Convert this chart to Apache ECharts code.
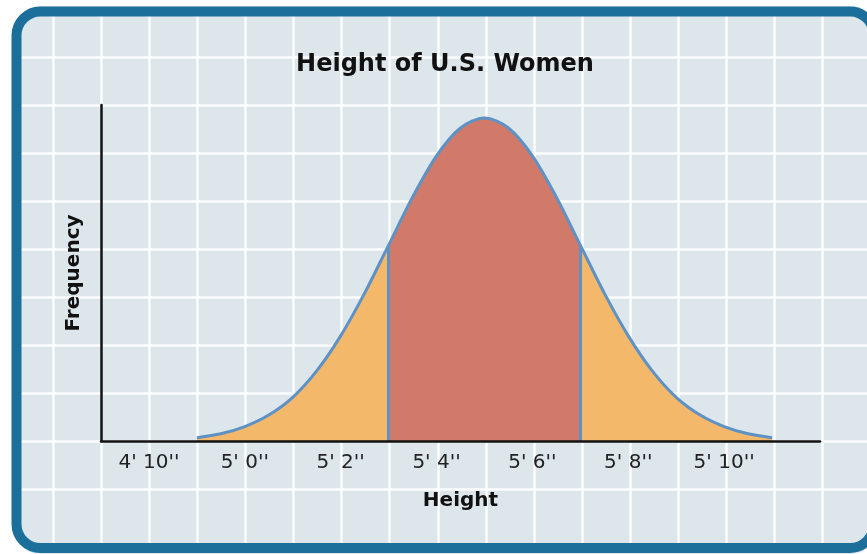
<!DOCTYPE html>
<html><head><meta charset="utf-8">
<script src="https://cdn.jsdelivr.net/npm/echarts@6/dist/echarts.min.js"></script>
<style>html,body{margin:0;padding:0;background:#fff}#c{width:867px;height:554px}</style>
</head><body><div id="c"></div>
<script>
// Height in inches (x) and relative frequency (y)
const heights = [59, 59.5, 60, 60.5, 61, 61.5, 62, 62.5, 63, 63.5, 64, 64.5, 65, 65.5, 66, 66.5, 67, 67.5, 68, 68.5, 69, 69.5, 70, 70.5, 71];
const frequency = [0.07, 0.15, 0.30, 0.54, 0.91, 1.46, 2.19, 3.08, 4.08, 5.08, 5.94, 6.52, 6.73, 6.52, 5.94, 5.08, 4.08, 3.08, 2.19, 1.46, 0.91, 0.54, 0.30, 0.15, 0.07];
const tickValues = [58, 60, 62, 64, 66, 68, 70];
const tickLabels = ["4' 10''", "5' 0''", "5' 2''", "5' 4''", "5' 6''", "5' 8''", "5' 10''"];
const dividers = [63, 67];

const ORANGE = '#f4b86b', RED = '#d27a69', BLUE = '#5f92c4';
const FONT = '"DejaVu Sans", "Liberation Sans", sans-serif';

const points = heights.map((h, i) => [h, frequency[i]]);
const dividerLines = dividers.map(d => {
  const v = frequency[heights.indexOf(d)];
  return [{ coord: [d, 0] }, { coord: [d, v] }];
});

const chart = echarts.init(document.getElementById('c'), null, { renderer: 'canvas' });
chart.setOption({
  backgroundColor: '#dce6eb',
  animation: false,
  grid: [
    { left: 101, top: 105, width: 719, height: 336, outerBoundsMode: 'none' },
    { left: 4.9, top: 10, width: 865.8, height: 540, outerBoundsMode: 'none' },
    { left: 0, top: 9, width: 867, height: 480, outerBoundsMode: 'none' }
  ],
  xAxis: [
    {
      gridIndex: 0, type: 'value', min: 57, max: 72, interval: 1, z: 5,
      axisLine: { show: true, lineStyle: { color: '#111', width: 2.5 } },
      axisTick: { show: false }, splitLine: { show: false },
      axisLabel: {
        margin: 12, color: '#222', fontSize: 20, fontFamily: FONT,
        formatter: v => { const i = tickValues.indexOf(v); return i >= 0 ? tickLabels[i] : ''; }
      },
      name: 'Height', nameLocation: 'middle', nameGap: 50,
      nameTextStyle: { color: '#111', fontSize: 20, fontWeight: 'bold', fontFamily: FONT }
    },
    {
      gridIndex: 1, type: 'value', min: 0, max: 18, interval: 1, z: -10,
      axisLine: { show: false }, axisTick: { show: false }, axisLabel: { show: false },
      splitLine: { show: true, lineStyle: { color: '#ffffff', width: 2.5, opacity: 0.9 } }
    },
    {
      gridIndex: 2, type: 'value', min: 0, max: 10, interval: 1, z: -10,
      axisLine: { show: false }, axisTick: { show: false }, axisLabel: { show: false },
      splitLine: { show: false }
    }
  ],
  yAxis: [
    {
      gridIndex: 0, type: 'value', min: 0, max: 7, interval: 1, z: 5,
      axisLine: { show: true, lineStyle: { color: '#111', width: 2.5 } },
      axisTick: { show: false }, splitLine: { show: false }, axisLabel: { show: false },
      name: 'Frequency', nameLocation: 'middle', nameGap: 17, nameRotate: 90,
      nameTextStyle: { color: '#111', fontSize: 20, fontWeight: 'bold', fontFamily: FONT }
    },
    {
      gridIndex: 1, type: 'value', min: 0, max: 10, interval: 1, z: -10,
      axisLine: { show: false }, axisTick: { show: false }, axisLabel: { show: false },
      splitLine: { show: false }
    },
    {
      gridIndex: 2, type: 'value', min: 0, max: 10, interval: 1, inverse: true, z: -10,
      axisLine: { show: false }, axisTick: { show: false }, axisLabel: { show: false },
      splitLine: { show: true, lineStyle: { color: '#ffffff', width: 2.5, opacity: 0.9 } }
    }
  ],
  visualMap: {
    type: 'piecewise', show: false, dimension: 0, seriesIndex: 0,
    pieces: [
      { lt: dividers[0], color: ORANGE },
      { gte: dividers[0], lte: dividers[1], color: RED },
      { gt: dividers[1], color: ORANGE }
    ]
  },
  series: [
    {
      type: 'line', xAxisIndex: 0, yAxisIndex: 0, data: points, smooth: 0.3,
      symbol: 'none', lineStyle: { width: 0 }, areaStyle: { opacity: 1 }, z: 2, silent: true
    },
    {
      type: 'line', xAxisIndex: 0, yAxisIndex: 0, data: points, smooth: 0.3,
      symbol: 'none', lineStyle: { color: BLUE, width: 3 }, itemStyle: { color: BLUE }, z: 3, silent: true,
      markLine: {
        silent: true, symbol: 'none', label: { show: false },
        lineStyle: { color: BLUE, width: 3, type: 'solid' },
        data: dividerLines
      }
    }
  ],
  graphic: {
    z: 100,
    elements: [
      { type: 'rect', z: 100, shape: { x: -8, y: -14, width: 907, height: 588, r: 49 },
        style: { fill: null, stroke: '#ffffff', lineWidth: 40 } },
      { type: 'rect', z: 100, shape: { x: 16.5, y: 11.5, width: 857.5, height: 536.5, r: 24 },
        style: { fill: null, stroke: '#1d6f9b', lineWidth: 10 } },
      { type: 'text', z: 100, x: 445, y: 65,
        style: { text: 'Height of U.S. Women', fill: '#111', font: 'bold 24px ' + FONT, align: 'center', verticalAlign: 'middle' } }
    ]
  }
});
</script>
</body></html>
